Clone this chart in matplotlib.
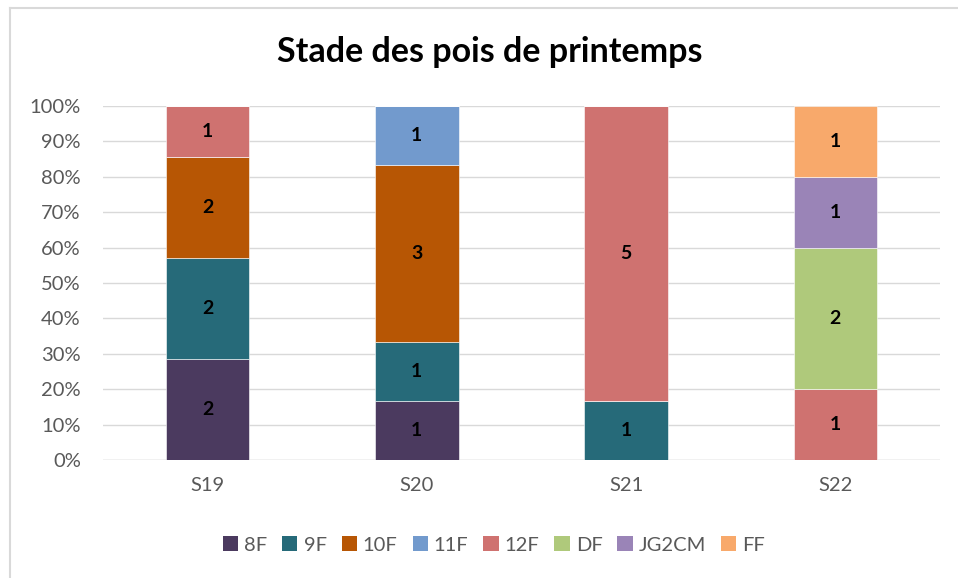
import matplotlib
matplotlib.use("Agg")
import matplotlib.pyplot as plt
from matplotlib.lines import Line2D
from matplotlib.patches import Patch
import numpy as np

plt.rcParams['font.family'] = ['Lato', 'DejaVu Sans']

categories = ["S19", "S20", "S21", "S22"]
series_names = ["8F", "9F", "10F", "11F", "12F", "DF", "JG2CM", "FF"]
v_8F = [2, 1, 0, 0]
v_9F = [2, 1, 1, 0]
v_10F = [2, 3, 0, 0]
v_11F = [0, 1, 0, 0]
v_12F = [1, 0, 5, 1]
v_DF = [0, 0, 0, 2]
v_JG2CM = [0, 0, 0, 1]
v_FF = [0, 0, 0, 1]
series_values = [v_8F, v_9F, v_10F, v_11F, v_12F, v_DF, v_JG2CM, v_FF]
colors = ["#4B3A5F", "#266A79", "#B75604", "#729ACD", "#CF7270", "#AFC97B", "#9A84B7", "#F8A96B"]
yticks = [0, 10, 20, 30, 40, 50, 60, 70, 80, 90, 100]

W, H = 958, 578
fig = plt.figure(figsize=(W / 100, H / 100), dpi=100)
ax = fig.add_axes([103 / W, 1 - 460 / H, (940 - 103) / W, (460 - 106) / H])

vals = np.array(series_values, dtype=float)
totals = vals.sum(axis=0)
pct = vals / totals * 100
x = np.arange(len(categories))
bottom = np.zeros(len(categories))
for name, p, v, c in zip(series_names, pct, vals, colors):
    ax.bar(x, p, bottom=bottom, width=0.4, color=c, edgecolor="white", linewidth=0.4, zorder=3, label=name)
    for xi, pi, vi, bi in zip(x, p, v, bottom):
        if vi > 0:
            ax.text(xi, bi + pi / 2, f"{int(vi)}", ha="center", va="center",
                    fontsize=14, fontweight="bold", color="black", zorder=4)
    bottom += p

ax.set_xlim(-0.5, len(categories) - 0.5)
ax.set_ylim(0, 100)
ax.set_yticks(yticks)
ax.set_yticklabels([f"{t}%" for t in yticks])
ax.set_xticks(x)
ax.set_xticklabels(categories)
ax.tick_params(axis="both", length=0, labelsize=14.5, colors="#595959")
ax.tick_params(axis="y", pad=16)
ax.tick_params(axis="x", pad=12)
ax.yaxis.grid(True, color="#D9D9D9", linewidth=1, zorder=0)
for s in ax.spines.values():
    s.set_visible(False)
ax.axhline(0, color="#D9D9D9", linewidth=1, zorder=1)

fig.text(490 / W, 1 - 52 / H, "Stade des pois de printemps", ha="center", va="center",
         fontsize=24.5, fontweight="bold", color="black")

handles = [Patch(facecolor=c, edgecolor="none") for c in colors]
fig.legend(handles, series_names, loc="center", bbox_to_anchor=(494 / W, 1 - 545 / H),
           ncol=len(series_names), frameon=False, fontsize=14.5, labelcolor="#595959",
           handlelength=0.75, handleheight=0.75, handletextpad=0.3, columnspacing=0.75)

# outer frame (left and top edges visible)
fig.add_artist(Line2D([9.5 / W, 9.5 / W], [0, 1 - 7.5 / H], transform=fig.transFigure,
                      color="#D9D9D9", linewidth=1.5))
fig.add_artist(Line2D([9.5 / W, 1], [1 - 7.5 / H, 1 - 7.5 / H], transform=fig.transFigure,
                      color="#D9D9D9", linewidth=1.5))

fig.savefig("out.png", dpi=100)
